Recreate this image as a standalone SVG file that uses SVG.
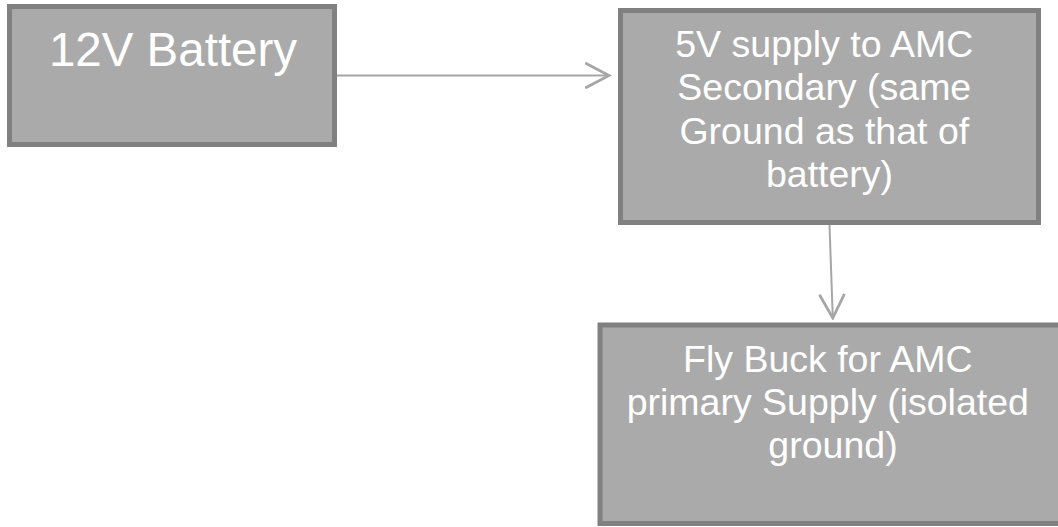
<svg xmlns="http://www.w3.org/2000/svg" width="1058" height="527" viewBox="0 0 1058 527">
<defs>
<style>
.box{fill:#aaaaaa;stroke:#808080;stroke-width:5}
.lbl{font-family:"Liberation Sans",Arial,sans-serif;fill:#ffffff;text-anchor:middle}
.con{stroke:#a6a6a6;stroke-width:2;fill:none}
</style>
<marker id="chev" markerUnits="userSpaceOnUse" markerWidth="30" markerHeight="30" viewBox="-22 -12 24 24" refX="0" refY="0" orient="auto">
<path d="M-19,-10 L0,0 L-19,10" fill="none" stroke="#a6a6a6" stroke-width="2.2"/>
</marker>
</defs>
<rect width="1058" height="527" fill="#ffffff"/>
<g id="connectors">
<line class="con" x1="336" y1="75.5" x2="609" y2="75.5" marker-end="url(#chev)"/>
<line class="con" x1="829.5" y1="225" x2="832.8" y2="318" marker-end="url(#chev)"/>
</g>
<g id="battery">
<rect class="box" x="9.5" y="6.5" width="325" height="138"/>
<text class="lbl" x="173" y="66" font-size="47.5">12V Battery</text>
</g>
<g id="supply5v">
<rect class="box" x="620.5" y="10.5" width="418" height="212"/>
<text class="lbl" font-size="37.5">
<tspan x="829.5" y="57">5V supply to AMC</tspan>
<tspan x="829.5" y="100.3">Secondary (same</tspan>
<tspan x="829.5" y="143.6">Ground as that of</tspan>
<tspan x="829.5" y="186.9">battery)</tspan>
</text>
</g>
<g id="flybuck">
<rect class="box" x="600" y="325" width="470" height="198.5"/>
<text class="lbl" font-size="37.5">
<tspan x="833" y="372">Fly Buck for AMC</tspan>
<tspan x="833" y="415">primary Supply (isolated</tspan>
<tspan x="833" y="458">ground)</tspan>
</text>
</g>
</svg>
